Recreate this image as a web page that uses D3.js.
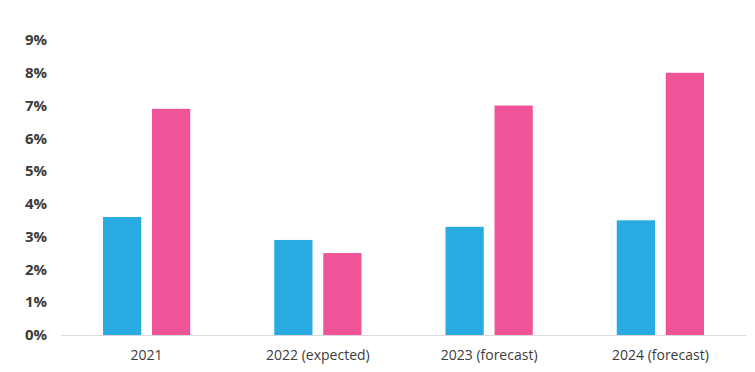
<!DOCTYPE html>
<html>
<head>
<meta charset="utf-8">
<script src="https://cdn.jsdelivr.net/npm/d3@7"></script>
<style>
  body { margin: 0; background: #fff; }
  text { font-family: "Open Sans", "DejaVu Sans", sans-serif; fill: #3b3b3b; }
</style>
</head>
<body>
<div id="chart"></div>
<script>
var w = 755;
var h = 372;

// chart data
const categories = ["2021", "2022 (expected)", "2023 (forecast)", "2024 (forecast)"];
const seriesNames = ["blue", "pink"];
const blueValues = [3.6, 2.9, 3.3, 3.5];
const pinkValues = [6.9, 2.5, 7.0, 8.0];
const yTicks = [0, 1, 2, 3, 4, 5, 6, 7, 8, 9];
const colors = ["#29abe2", "#ef5398"];

var margin = { top: 40, right: 9, bottom: 37, left: 61 };

var svg = d3.select("#chart").append("svg")
    .attr("width", w)
    .attr("height", h);

var x = d3.scaleBand()
    .domain(categories)
    .range([margin.left, w - margin.right])
    .paddingInner(0)
    .paddingOuter(0);

var xInner = d3.scaleBand()
    .domain(seriesNames)
    .range([42, x.bandwidth() - 42])
    .paddingInner(0.22);

var y = d3.scaleLinear()
    .domain([0, 9])
    .range([h - margin.bottom, margin.top]);

// y tick labels
svg.append("g")
    .selectAll("text")
    .data(yTicks)
    .enter().append("text")
    .attr("x", 47)
    .attr("y", d => y(d))
    .attr("dy", "0.35em")
    .attr("text-anchor", "end")
    .style("font-size", "15px")
    .style("font-weight", "bold")
    .text(d => d + "%");

// bars
var rows = categories.map((c, i) => ({ cat: c, values: [blueValues[i], pinkValues[i]] }));

var groups = svg.append("g")
    .selectAll("g")
    .data(rows)
    .enter().append("g")
    .attr("transform", d => "translate(" + x(d.cat) + ",0)");

groups.selectAll("rect")
    .data(d => d.values.map((v, j) => ({ key: seriesNames[j], value: v, color: colors[j] })))
    .enter().append("rect")
    .attr("x", d => xInner(d.key))
    .attr("y", d => y(d.value))
    .attr("width", xInner.bandwidth())
    .attr("height", d => y(0) - y(d.value))
    .attr("fill", d => d.color);

// x axis line
svg.append("line")
    .attr("x1", margin.left)
    .attr("x2", w - margin.right)
    .attr("y1", y(0) + 0.5)
    .attr("y2", y(0) + 0.5)
    .attr("stroke", "#d9d9d9")
    .attr("stroke-width", 1);

// x labels
svg.append("g")
    .selectAll("text")
    .data(categories)
    .enter().append("text")
    .attr("x", d => x(d) + x.bandwidth() / 2)
    .attr("y", y(0) + 25)
    .attr("text-anchor", "middle")
    .style("font-size", "14px")
    .text(d => d);
</script>
</body>
</html>
